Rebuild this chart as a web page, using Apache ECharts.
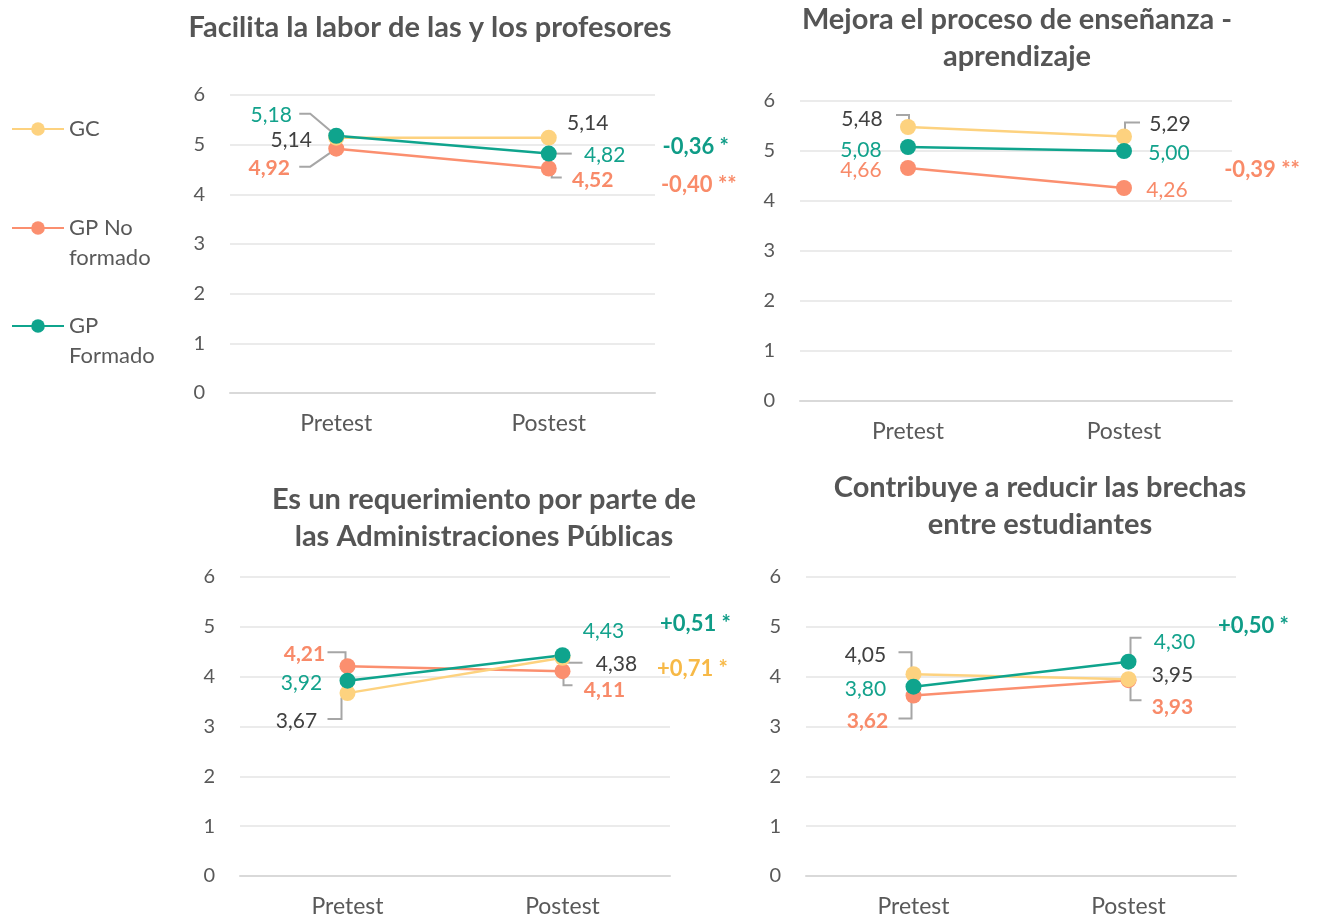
<!DOCTYPE html>
<html>
<head>
<meta charset="utf-8">
<script src="https://cdn.jsdelivr.net/npm/echarts@6/dist/echarts.min.js"></script>
<style>
  html, body { margin: 0; padding: 0; background: #ffffff; }
  #chart { width: 1317px; height: 922px; }
</style>
</head>
<body>
<div id="chart"></div>
<script>
// ---- data ----
const phases = ['Pretest', 'Postest'];
const groups = ['GC', 'GP No formado', 'GP Formado'];
const panelTitles = [
  'Facilita la labor de las y los profesores',
  'Mejora el proceso de enseñanza -\naprendizaje',
  'Es un requerimiento por parte de\nlas Administraciones Públicas',
  'Contribuye a reducir las brechas\nentre estudiantes'
];
// mean score per panel: [Pretest, Postest]
const gcValues   = [[5.14, 5.14], [5.48, 5.29], [3.67, 4.38], [4.05, 3.95]];
const gpNoValues = [[4.92, 4.52], [4.66, 4.26], [4.21, 4.11], [3.62, 3.93]];
const gpFValues  = [[5.18, 4.82], [5.08, 5.00], [3.92, 4.43], [3.80, 4.30]];
// pre-post change with significance, per panel
const changeText  = [['-0,36 *', '-0,40 **'], ['-0,39 **'], ['+0,51 *', '+0,71 *'], ['+0,50 *']];
const changeGroup = [['GP Formado', 'GP No formado'], ['GP No formado'], ['GP Formado', 'GC'], ['GP Formado']];
const yMin = 0, yMax = 6, yStep = 1;

// ---- styling / layout ----
const FONT = 'Lato, "Open Sans", sans-serif';
const colors = { 'GC': '#FDD27F', 'GP No formado': '#FB8F6F', 'GP Formado': '#0FA48D' };
const labelColors = { 'GC': '#404040', 'GP No formado': '#F88A69', 'GP Formado': '#13A28C' };
const changeColors = { 'GC': '#F7B947', 'GP No formado': '#F98B69', 'GP Formado': '#0F9C87' };
const valuesByGroup = { 'GC': gcValues, 'GP No formado': gpNoValues, 'GP Formado': gpFValues };
const drawOrder = ['GP No formado', 'GC', 'GP Formado'];

const gridBoxes = [
  { left: 230, top: 95,  width: 425, height: 298 },
  { left: 800, top: 101, width: 432, height: 300 },
  { left: 240, top: 577, width: 430, height: 299 },
  { left: 806, top: 577, width: 430, height: 299 }
];
const titleSpots = [[425, 4], [1012, -4], [479, 476], [1035, 464]];

// value-label offset [dx, dy] from its point, per panel -> group -> phase
const labelPlacement = [
  { 'GC': [[-45, 3], [39, -14]], 'GP No formado': [[-67, 20], [44, 12]], 'GP Formado': [[-65, -20], [56, 2]] },
  { 'GC': [[-46, -8], [46, -12]], 'GP No formado': [[-47, 2], [43, 2]], 'GP Formado': [[-47, 3], [45, 2]] },
  { 'GC': [[-51, 28], [54, 7]], 'GP No formado': [[-43, -12], [42, 19]], 'GP Formado': [[-46, 3], [41, -24]] },
  { 'GC': [[-48, -19], [44, -4]], 'GP No formado': [[-46, 26], [44, 27]], 'GP Formado': [[-48, 3], [46, -19]] }
];
// leader-line shapes (pixel offsets from the point), per panel -> group -> phase; null = no leader
const leaderShapes = [
  { 'GC': [null, null],
    'GP No formado': [[[-37, 18], [-26, 18], [0, 0]], [[3, 0], [3, 9], [13, 9]]],
    'GP Formado': [[[-37, -22], [-26, -22], [0, 0]], [[0, 0], [23, 0]]] },
  { 'GC': [[[-12, -12], [1, -12], [1, 0]], [[1, 0], [1, -14], [16, -14]]],
    'GP No formado': [null, null],
    'GP Formado': [null, null] },
  { 'GC': [[[-20, 26], [-6, 26], [-6, 5], [0, 0]], [[0, 5], [20, 5]]],
    'GP No formado': [[[-20, -14], [-2, -14], [-2, 0]], [[1, 0], [1, 14], [10, 14]]],
    'GP Formado': [null, null] },
  { 'GC': [[[-15, -22], [-2, -22], [-2, 0]], null],
    'GP No formado': [[[-15, 23], [-2, 23], [-2, 0]], [[2, 0], [2, 20], [13, 20]]],
    'GP Formado': [null, [[2, 0], [2, -24], [13, -24]]] }
];
// change-label offset from the Postest point, per panel
const changePlacement = [[[147, -7], [150, 16]], [[138, -18]], [[133, -31], [130, 11]], [[125, -36]]];
const boldValueLabels = [true, false, true, true];

const fmt = v => v.toFixed(2).replace('.', ',');

const grids = [], xAxes = [], yAxes = [], titles = [], series = [];
gridBoxes.forEach((box, p) => {
  grids.push(Object.assign({ containLabel: false }, box));
  titles.push({
    text: panelTitles[p],
    left: titleSpots[p][0], top: titleSpots[p][1], textAlign: 'center',
    textStyle: { fontFamily: FONT, fontSize: 29, fontWeight: 'bold', color: '#555555', lineHeight: 37 }
  });
  xAxes.push({
    type: 'category', gridIndex: p, data: phases, boundaryGap: true,
    axisLine: { show: true, lineStyle: { color: '#D9D9D9', width: 2 } },
    axisTick: { show: false },
    axisLabel: { margin: 19, fontFamily: FONT, fontSize: 23, color: '#595959' }
  });
  yAxes.push({
    type: 'value', gridIndex: p, min: yMin, max: yMax, interval: yStep,
    axisLine: { show: false }, axisTick: { show: false },
    axisLabel: { margin: 25, fontFamily: FONT, fontSize: 20, color: '#595959' },
    splitLine: { lineStyle: { color: '#EBEBEB', width: 2 } }
  });

  // leader lines connecting moved value labels with their points
  const leaderData = [];
  groups.forEach(g => {
    valuesByGroup[g][p].forEach((v, i) => {
      if (leaderShapes[p][g][i]) leaderData.push({ value: [i, v], shape: leaderShapes[p][g][i] });
    });
  });
  series.push({
    type: 'custom', xAxisIndex: p, yAxisIndex: p, z: 1, silent: true,
    data: leaderData,
    renderItem: (params, api) => {
      const c = api.coord([api.value(0), api.value(1)]);
      const shape = leaderData[params.dataIndex].shape;
      return {
        type: 'polyline',
        shape: { points: shape.map(d => [c[0] + d[0], c[1] + d[1]]) },
        style: { stroke: '#A6A6A6', lineWidth: 2, fill: null }
      };
    },
    animation: false
  });

  drawOrder.forEach(g => {
    const vals = valuesByGroup[g][p];
    const data = vals.map((v, i) => ({
      value: v,
      label: { offset: labelPlacement[p][g][i] }
    }));
    const s = {
      name: g, type: 'line', xAxisIndex: p, yAxisIndex: p, z: 2,
      data: data,
      symbol: 'circle', symbolSize: 16,
      color: colors[g],
      lineStyle: { color: colors[g], width: 2.5 },
      itemStyle: { color: colors[g] },
      label: {
        show: true, position: 'inside',
        formatter: prm => fmt(prm.value),
        fontFamily: FONT, fontSize: 21, color: labelColors[g],
        fontWeight: (g === 'GP No formado' && boldValueLabels[p]) ? 'bold' : 'normal'
      },
      emphasis: { disabled: true },
      animation: false
    };
    const idx = changeGroup[p].indexOf(g);
    if (idx >= 0) {
      s.markPoint = {
        symbol: 'circle', symbolSize: 0, silent: true, animation: false,
        data: [{
          coord: ['Postest', vals[1]],
          label: {
            show: true, position: 'inside',
            offset: changePlacement[p][idx],
            formatter: changeText[p][idx],
            fontFamily: FONT, fontSize: 22, fontWeight: 'bold', color: changeColors[g]
          }
        }]
      };
    }
    series.push(s);
  });
});

// legend entries wrap onto two lines; a leading blank line keeps the first line level with the marker
const legendLabel = name => name === 'GP No formado' ? '\nGP No\nformado' : (name === 'GP Formado' ? '\nGP\nFormado' : name);
const legendTops = [114, 183, 281];
const legends = groups.map((g, i) => ({
  data: [g], orient: 'vertical', left: 11, top: legendTops[i], padding: 0,
  itemWidth: 52, itemHeight: 17, selectedMode: false,
  formatter: legendLabel,
  textStyle: { fontFamily: FONT, fontSize: 22, color: '#595959', lineHeight: 30 }
}));

const chart = echarts.init(document.getElementById('chart'), null, { renderer: 'canvas' });
chart.setOption({
  backgroundColor: '#ffffff',
  animation: false,
  title: titles,
  legend: legends,
  grid: grids,
  xAxis: xAxes,
  yAxis: yAxes,
  series: series
});
</script>
</body>
</html>
